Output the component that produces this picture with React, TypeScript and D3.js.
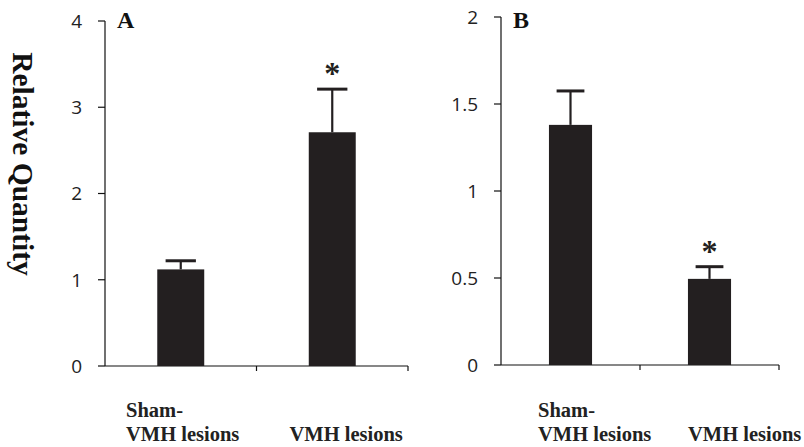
import React from "react";
import * as d3 from "d3";

const categories = ["Sham-|VMH lesions", "VMH lesions"];
const panelAValues = [1.12, 2.71];
const panelAErrors = [0.1, 0.5];
const panelASignificant = [false, true];
const panelATicks = [0, 1, 2, 3, 4];
const panelBValues = [1.38, 0.495];
const panelBErrors = [0.195, 0.07];
const panelBSignificant = [false, true];
const panelBTicks = [0, 0.5, 1, 1.5, 2];
const yAxisTitle = "Relative Quantity";

const W = 804;
const H = 447;
const BAR = "#231f20";
const SERIF = "'Liberation Serif', 'Times New Roman', serif";
const SANS = "'Open Sans', 'Noto Sans', sans-serif";

type PanelProps = {
  letter: string;
  values: number[];
  errors: number[];
  sig: boolean[];
  ticks: number[];
  x0: number;
  x1: number;
  yTop: number;
  yBottom: number;
  labelOffsets: number[];
};

function Panel(p: PanelProps) {
  const maxTick = d3.max(p.ticks) as number;
  const y = d3.scaleLinear().domain([0, maxTick]).range([p.yBottom, p.yTop]);
  const x = d3.scaleBand<string>().domain(categories).range([p.x0, p.x1]).padding(0);
  const bw = x.bandwidth() * 0.31;
  const capW = x.bandwidth() * 0.2;
  const fmt = (v: number) => String(v);
  return (
    <g>
      <line x1={p.x0} x2={p.x0} y1={p.yTop} y2={p.yBottom} stroke="#111" strokeWidth={1.2} />
      {p.ticks.map((t) => (
        <g key={t}>
          <line x1={p.x0 - 7} x2={p.x0} y1={y(t)} y2={y(t)} stroke="#111" strokeWidth={1.2} />
          <text
            x={p.x0 - 23}
            y={y(t)}
            dy="0.36em"
            textAnchor="end"
            fontFamily={SANS}
            fontSize={19}
            fill="#222"
          >
            {fmt(t)}
          </text>
        </g>
      ))}
      <line x1={p.x0} x2={p.x1} y1={p.yBottom} y2={p.yBottom} stroke="#111" strokeWidth={1.2} />
      {categories.map((c) => (
        <line
          key={"t" + c}
          x1={(x(c) as number) + x.bandwidth()}
          x2={(x(c) as number) + x.bandwidth()}
          y1={p.yBottom}
          y2={p.yBottom + 5}
          stroke="#111"
          strokeWidth={1.2}
        />
      ))}
      {categories.map((c, i) => {
        const cx = (x(c) as number) + x.bandwidth() / 2;
        const top = y(p.values[i]);
        const errY = y(p.values[i] + p.errors[i]);
        return (
          <g key={c}>
            <rect x={cx - bw / 2} y={top} width={bw} height={p.yBottom - top} fill={BAR} />
            <line x1={cx} x2={cx} y1={top} y2={errY} stroke={BAR} strokeWidth={2.2} />
            <line x1={cx - capW / 2} x2={cx + capW / 2} y1={errY} y2={errY} stroke={BAR} strokeWidth={3} />
            {p.sig[i] && (
              <text x={cx} y={errY - 5} textAnchor="middle" fontFamily={SERIF} fontWeight="bold" fontSize={32} fill={BAR}>
                *
              </text>
            )}
            {c.split("|").map((line, j, arr) => (
              <text
                key={j}
                x={(x(c) as number) + p.labelOffsets[i]}
                y={441 - (arr.length - 1 - j) * 24}
                fontFamily={SERIF}
                fontWeight="bold"
                fontSize={20.5}
                fill="#222"
              >
                {line}
              </text>
            ))}
          </g>
        );
      })}
      <text x={p.x0 + 12} y={28} fontFamily={SERIF} fontWeight="bold" fontSize={24} fill="#111">
        {p.letter}
      </text>
    </g>
  );
}

export default function App() {
  return (
    <svg
      width={W}
      height={H}
      viewBox={`0 0 ${W} ${H}`}
      style={{ position: "absolute", left: 0, top: 0, background: "#fff" }}
    >
      <rect width={W} height={H} fill="#fff" />
      <text
        transform={`translate(13, 164) rotate(90)`}
        textAnchor="middle"
        fontFamily={SERIF}
        fontWeight="bold"
        fontSize={29.5}
        fill="#111"
      >
        {yAxisTitle}
      </text>
      <Panel
        letter="A"
        values={panelAValues}
        errors={panelAErrors}
        sig={panelASignificant}
        ticks={panelATicks}
        x0={105}
        x1={408}
        yTop={21}
        yBottom={366}
        labelOffsets={[21, 33]}
      />
      <Panel
        letter="B"
        values={panelBValues}
        errors={panelBErrors}
        sig={panelBSignificant}
        ticks={panelBTicks}
        x0={501}
        x1={779}
        yTop={17}
        yBottom={365}
        labelOffsets={[37, 48]}
      />
    </svg>
  );
}
